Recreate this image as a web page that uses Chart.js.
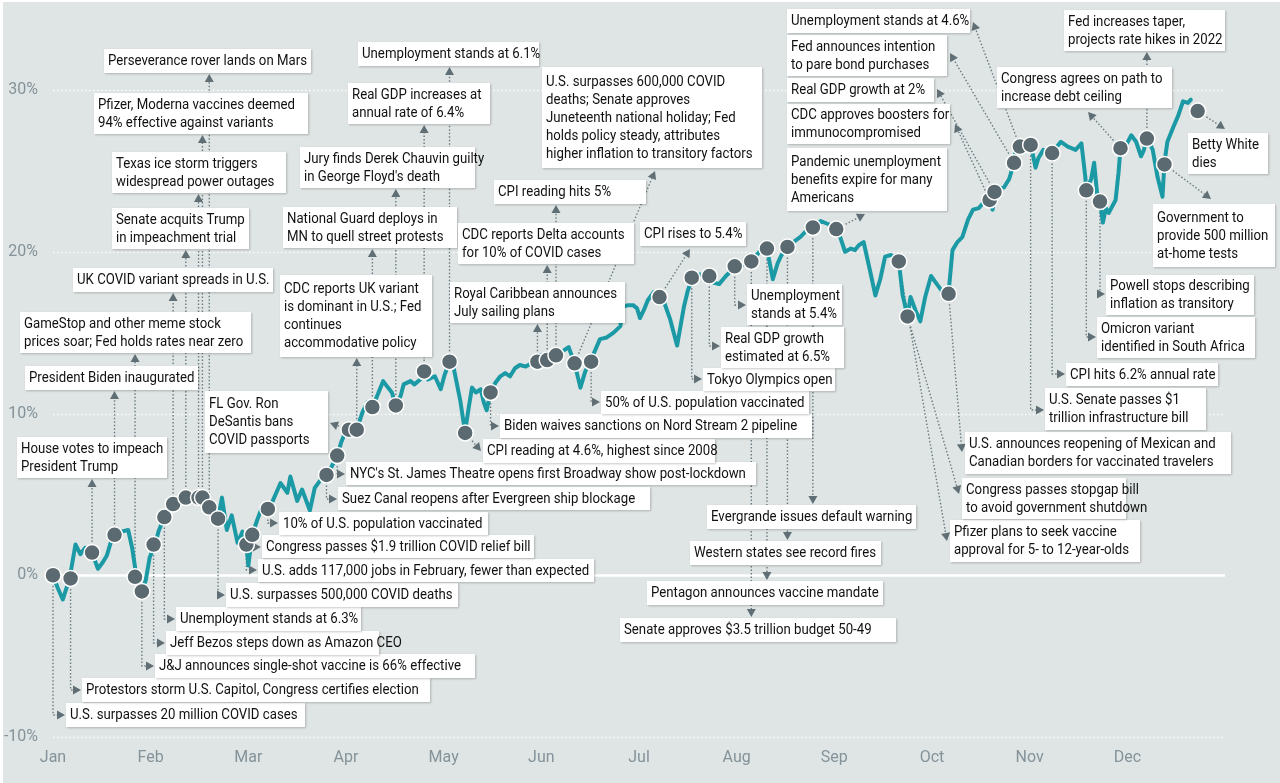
<!DOCTYPE html>
<html>
<head>
<meta charset="utf-8">
<script src="https://cdn.jsdelivr.net/npm/chart.js@4.4.1/dist/chart.umd.min.js"></script>
<style>
  html, body { margin: 0; padding: 0; background: #fff; }
  canvas { display: block; }
</style>
</head>
<body>
<canvas id="chart" width="1280" height="783"></canvas>
<script>
// month ticks on the x axis (x value = months since Jan 1)
const months = ["Jan", "Feb", "Mar", "Apr", "May", "Jun", "Jul", "Aug", "Sep", "Oct", "Nov", "Dec"];
const yTicks = [-10, 0, 10, 20, 30];

// cumulative return, %
const retX = [0, 0.05, 0.10, 0.17, 0.23, 0.28, 0.33, 0.40, 0.46, 0.51, 0.55, 0.60, 0.63, 0.70, 0.77, 0.81, 0.85, 0.89, 0.91, 0.95,
  0.99, 1.05, 1.08, 1.14, 1.18, 1.23, 1.29, 1.36, 1.42, 1.49, 1.54, 1.60, 1.65, 1.69, 1.73, 1.78, 1.83, 1.89, 1.94, 1.98,
  2.00, 2.04, 2.09, 2.14, 2.20, 2.25, 2.33, 2.40, 2.43, 2.50, 2.55, 2.63, 2.68, 2.74, 2.81, 2.86, 2.91, 2.95, 2.99, 3.02,
  3.07, 3.11, 3.17, 3.22, 3.27, 3.30, 3.38, 3.43, 3.47, 3.51, 3.56, 3.59, 3.66, 3.70, 3.76, 3.80, 3.84, 3.91, 3.97, 4.01,
  4.06, 4.10, 4.17, 4.20, 4.22, 4.26, 4.29, 4.33, 4.38, 4.41, 4.44, 4.48, 4.53, 4.58, 4.63, 4.68, 4.73, 4.78, 4.84, 4.90,
  4.96, 4.99, 5.03, 5.07, 5.12, 5.15, 5.23, 5.28, 5.34, 5.40, 5.45, 5.50, 5.55, 5.60, 5.67, 5.74, 5.81, 5.83, 5.89, 5.94,
  5.98, 6.01, 6.05, 6.09, 6.15, 6.21, 6.25, 6.32, 6.39, 6.46, 6.50, 6.55, 6.60, 6.66, 6.72, 6.76, 6.82, 6.89, 6.94, 6.98,
  7.04, 7.10, 7.15, 7.19, 7.25, 7.31, 7.37, 7.42, 7.46, 7.52, 7.58, 7.65, 7.73, 7.79, 7.86, 7.94, 8.02, 8.06, 8.11, 8.17,
  8.21, 8.25, 8.30, 8.37, 8.42, 8.47, 8.52, 8.58, 8.66, 8.70, 8.75, 8.78, 8.83, 8.88, 8.93, 8.99, 9.05, 9.11, 9.17, 9.21,
  9.26, 9.31, 9.37, 9.42, 9.48, 9.55, 9.59, 9.62, 9.65, 9.70, 9.74, 9.79, 9.84, 9.86, 9.90, 9.96, 10.01, 10.03, 10.06, 10.09,
  10.14, 10.23, 10.28, 10.32, 10.39, 10.47, 10.53, 10.57, 10.58, 10.63, 10.66, 10.70, 10.72, 10.75, 10.78, 10.81, 10.88, 10.91, 10.93, 10.98,
  11.04, 11.09, 11.14, 11.17, 11.20, 11.26, 11.31, 11.36, 11.38, 11.41, 11.47, 11.52, 11.57, 11.62, 11.65];
const retY = [0, -0.8, -1.5, -0.2, 1.9, 1.3, 1.7, 1.4, 0.4, 0.8, 1.2, 2.2, 2.5, 2.7, 2.8, 1.7, 0.1, -0.8, -1.0, -0.3,
  1.1, 2.0, 2.7, 3.6, 4.1, 4.4, 4.6, 4.8, 4.8, 4.8, 4.8, 4.2, 3.9, 3.5, 4.8, 2.8, 3.7, 2.0, 2.7, 1.9,
  0.6, 2.5, 3.4, 4.2, 4.1, 4.6, 5.7, 5.1, 6.1, 4.6, 5.3, 4.0, 5.4, 5.9, 6.2, 6.8, 7.4, 8.2, 8.8, 9.0,
  9.0, 9.0, 10.1, 10.7, 10.3, 10.8, 12.0, 11.6, 11.3, 10.5, 11.1, 11.8, 12.0, 11.8, 12.1, 12.6, 12.1, 12.3, 11.5, 12.4,
  13.2, 12.9, 10.8, 9.6, 8.9, 10.5, 11.6, 11.3, 11.5, 10.7, 10.2, 11.3, 11.9, 12.3, 12.5, 12.3, 12.8, 13.0, 12.9, 13.1,
  13.2, 13.6, 13.4, 13.3, 13.5, 13.6, 13.9, 14.1, 13.1, 11.6, 12.6, 13.2, 13.9, 14.6, 14.7, 15.0, 15.4, 16.6, 16.7, 16.7,
  16.5, 15.9, 16.4, 17.0, 17.5, 17.2, 17.0, 15.8, 14.2, 16.6, 17.6, 18.4, 18.6, 18.6, 18.5, 18.1, 18.0, 18.5, 18.8, 19.1,
  19.1, 19.3, 19.4, 19.7, 20.1, 20.2, 18.3, 19.3, 19.8, 20.3, 20.6, 20.9, 21.4, 21.5, 21.9, 21.7, 21.4, 20.9, 20.0, 20.2,
  20.1, 20.4, 20.6, 18.7, 17.3, 18.3, 19.7, 19.8, 19.4, 17.3, 16.0, 17.2, 16.4, 15.7, 17.2, 18.5, 18.0, 17.5, 17.5, 20.1,
  20.6, 20.9, 22.0, 22.6, 22.7, 23.2, 23.2, 22.6, 23.7, 23.9, 24.0, 24.5, 25.5, 26.5, 26.6, 26.7, 26.6, 26.1, 25.2, 25.8,
  26.3, 26.1, 26.5, 26.8, 26.5, 26.3, 26.7, 24.6, 23.8, 24.5, 25.5, 23.0, 23.1, 21.8, 22.7, 22.4, 23.2, 24.9, 26.4, 26.5,
  27.2, 26.8, 25.9, 26.3, 27.1, 26.3, 24.6, 23.4, 25.5, 26.8, 27.7, 28.4, 29.3, 29.2, 29.4];

// events (marker position on the chart)
const eventX = [0, 0.18, 0.40, 0.63, 0.84, 0.91, 1.03, 1.14, 1.23, 1.36, 1.49, 1.53, 1.60, 1.69,
  1.98, 2.04, 2.20, 2.80, 2.91, 3.03, 3.11, 3.27, 3.51, 3.80, 4.06, 4.22, 4.48,
  4.96, 5.06, 5.15, 5.34, 5.51, 6.21, 6.54, 6.72, 6.98, 7.15, 7.31, 7.52, 7.78, 8.02,
  8.66, 8.75, 9.17, 9.59, 9.64, 9.84, 9.90, 10.01, 10.23, 10.58, 10.72, 10.93, 11.20, 11.38, 11.72];
const eventY = [0, -0.2, 1.4, 2.5, -0.1, -1.0, 1.9, 3.6, 4.4, 4.8, 4.8, 4.8, 4.2, 3.5,
  1.9, 2.5, 4.1, 6.2, 7.4, 9.0, 9.0, 10.4, 10.5, 12.6, 13.2, 8.8, 11.3,
  13.2, 13.3, 13.6, 13.1, 13.2, 17.2, 18.4, 18.5, 19.1, 19.4, 20.2, 20.3, 21.5, 21.4,
  19.4, 16.0, 17.4, 23.2, 23.7, 25.5, 26.5, 26.6, 26.1, 23.8, 23.1, 26.4, 27.0, 25.4, 28.7];
const eventText = [
  "U.S. surpasses 20 million COVID cases",
  "Protestors storm U.S. Capitol, Congress certifies election",
  "House votes to impeach|President Trump",
  "President Biden inaugurated",
  "GameStop and other meme stock|prices soar; Fed holds rates near zero",
  "J&J announces single-shot vaccine is 66% effective",
  "Jeff Bezos steps down as Amazon CEO",
  "Unemployment stands at 6.3%",
  "UK COVID variant spreads in U.S.",
  "Senate acquits Trump|in impeachment trial",
  "Texas ice storm triggers|widespread power outages",
  "Pfizer, Moderna vaccines deemed|94% effective against variants",
  "Perseverance rover lands on Mars",
  "U.S. surpasses 500,000 COVID deaths",
  "U.S. adds 117,000 jobs in February, fewer than expected",
  "Congress passes $1.9 trillion COVID relief bill",
  "10% of U.S. population vaccinated",
  "Suez Canal reopens after Evergreen ship blockage",
  "NYC's St. James Theatre opens first Broadway show post-lockdown",
  "FL Gov. Ron|DeSantis bans|COVID passports",
  "CDC reports UK variant|is dominant in U.S.; Fed|continues|accommodative policy",
  "National Guard deploys in|MN to quell street protests",
  "Jury finds Derek Chauvin guilty|in George Floyd's death",
  "Real GDP increases at|annual rate of 6.4%",
  "Unemployment stands at 6.1%",
  "CPI reading at 4.6%, highest since 2008",
  "Biden waives sanctions on Nord Stream 2 pipeline",
  "Royal Caribbean announces|July sailing plans",
  "CDC reports Delta accounts|for 10% of COVID cases",
  "CPI reading hits 5%",
  "U.S. surpasses 600,000 COVID|deaths; Senate approves|Juneteenth national holiday; Fed|holds policy steady, attributes|higher inflation to transitory factors",
  "50% of U.S. population vaccinated",
  "CPI rises to 5.4%",
  "Tokyo Olympics open",
  "Real GDP growth|estimated at 6.5%",
  "Unemployment|stands at 5.4%",
  "Senate approves $3.5 trillion budget 50-49",
  "Pentagon announces vaccine mandate",
  "Western states see record fires",
  "Evergrande issues default warning",
  "Pandemic unemployment|benefits expire for many|Americans",
  "Pfizer plans to seek vaccine|approval for 5- to 12-year-olds",
  "Congress passes stopgap bill|to avoid government shutdown",
  "U.S. announces reopening of Mexican and|Canadian borders for vaccinated travelers",
  "CDC approves boosters for|immunocompromised",
  "Real GDP growth at 2%",
  "Fed announces intention|to pare bond purchases",
  "Unemployment stands at 4.6%",
  "U.S. Senate passes $1|trillion infrastructure bill",
  "CPI hits 6.2% annual rate",
  "Omicron variant|identified in South Africa",
  "Powell stops describing|inflation as transitory",
  "Congress agrees on path to|increase debt ceiling",
  "Fed increases taper,|projects rate hikes in 2022",
  "Government to|provide 500 million|at-home tests",
  "Betty White|dies"
];

// label boxes (canvas px) and how each connects to its marker
const noteBoxes = [
  [66, 703, 239, 24], [82, 678, 348, 24], [17, 437, 150, 41], [25, 366, 173, 24], [20, 312, 231, 41],
  [155, 654, 320, 24], [166, 631, 213, 24], [176, 607, 185, 24], [73, 268, 200, 24], [112, 208, 137, 41],
  [112, 152, 174, 41], [94, 93, 214, 41], [104, 49, 207, 24], [226, 583, 232, 24],
  [258, 559, 336, 23], [262, 535, 272, 23], [279, 512, 209, 23], [338, 487, 312, 23], [346, 462, 410, 23],
  [205, 391, 123, 62], [280, 275, 152, 82], [283, 207, 174, 41], [300, 147, 175, 41], [348, 83, 142, 41],
  [358, 42, 181, 24], [483, 439, 232, 24], [500, 414, 312, 24],
  [450, 282, 175, 41], [458, 223, 176, 41], [494, 180, 152, 24], [542, 67, 220, 101], [601, 391, 208, 23],
  [640, 222, 106, 24], [703, 368, 132, 23], [721, 327, 123, 41], [747, 284, 95, 41],
  [620, 618, 276, 24], [647, 581, 236, 24], [690, 541, 191, 24], [707, 505, 209, 24], [787, 148, 160, 63],
  [950, 520, 190, 42], [962, 478, 164, 41], [965, 432, 266, 42],
  [787, 104, 163, 40], [787, 78, 147, 24], [787, 35, 160, 41], [787, 9, 183, 24],
  [1045, 388, 161, 42], [1066, 363, 152, 23], [1097, 317, 158, 41], [1106, 275, 148, 40],
  [997, 67, 175, 41], [1064, 10, 161, 41], [1153, 204, 122, 63], [1188, 133, 80, 41]
];
const noteLinks = [
  ["elbow", 715], ["elbow", 690], ["up"], ["up"], ["up"],
  ["elbow", 666], ["elbow", 643], ["elbow", 619], ["up"], ["up"],
  ["up"], ["up"], ["up"], ["elbow", 595],
  ["elbow", 570], ["elbow", 547], ["elbow", 523], ["elbow", 499], ["elbow", 474],
  ["to", 330, 423], ["up"], ["up"], ["up"], ["up"],
  ["up"], ["to", 481, 451], ["elbow", 426],
  ["up"], ["up"], ["up"], ["to", 655, 171], ["elbow", 402],
  ["to", 690, 249], ["elbow", 379], ["elbow", 346], ["elbow", 305],
  ["down"], ["down"], ["down"], ["down"], ["to", 865, 214],
  ["to", 947, 541], ["to", 959, 494], ["to", 962, 452],
  ["to", 955, 124], ["to", 937, 89], ["to", 950, 53], ["to", 973, 22],
  ["elbow", 410], ["elbow", 374], ["elbow", 337], ["elbow", 294],
  ["to", 1088, 112], ["up"], ["to", 1211, 199], ["to", 1225, 129]
];

const TEAL = "#1b9aa6";
const SLATE = "#5b6a70";
const LINK = "#6a7a80";
const AXIS = "#84929a";

function markerPx(chart, i) {
  return [chart.scales.x.getPixelForValue(eventX[i]), chart.scales.y.getPixelForValue(eventY[i])];
}

function linkPath(chart, i) {
  const [mx, my] = markerPx(chart, i);
  const [bx, by, bw, bh] = noteBoxes[i];
  const l = noteLinks[i];
  if (l[0] === "up") return [[mx, my], [mx, by + bh + 1]];
  if (l[0] === "down") return [[mx, my], [mx, by - 1]];
  if (l[0] === "elbow") return [[mx, my], [mx, l[1]], [bx - 1, l[1]]];
  return [[mx, my], [l[1], l[2]]];
}

const backdrop = {
  id: "backdrop",
  beforeDraw(chart) {
    const ctx = chart.ctx;
    ctx.save();
    ctx.fillStyle = "#ffffff";
    ctx.fillRect(0, 0, chart.width, chart.height);
    ctx.fillStyle = "#dfe5e4";
    ctx.fillRect(3, 2, chart.width - 3, chart.height - 2);
    ctx.restore();
  },
  beforeDatasetsDraw(chart) {
    const ctx = chart.ctx, a = chart.chartArea, y = chart.scales.y;
    ctx.save();
    yTicks.forEach(v => {
      const py = Math.round(y.getPixelForValue(v)) + 0.5;
      ctx.beginPath();
      if (v === 0) {
        ctx.setLineDash([]);
        ctx.lineWidth = 2.5;
        ctx.strokeStyle = "#ffffff";
      } else {
        ctx.setLineDash([1.5, 2.5]);
        ctx.lineWidth = 1.5;
        ctx.strokeStyle = "rgba(255,255,255,0.95)";
      }
      ctx.moveTo(a.left, py);
      ctx.lineTo(a.right, py);
      ctx.stroke();
    });

    // dotted connectors with arrow heads
    ctx.strokeStyle = LINK;
    ctx.fillStyle = "#5f6f75";
    ctx.lineWidth = 1.4;
    for (let i = 0; i < eventX.length; i++) {
      const pts = linkPath(chart, i);
      const tip = pts[pts.length - 1], prev = pts[pts.length - 2];
      const ang = Math.atan2(tip[1] - prev[1], tip[0] - prev[0]);
      const len = 8;
      const end = [tip[0] - Math.cos(ang) * len, tip[1] - Math.sin(ang) * len];
      ctx.setLineDash([1.5, 2]);
      ctx.beginPath();
      ctx.moveTo(pts[0][0], pts[0][1]);
      for (let k = 1; k < pts.length - 1; k++) ctx.lineTo(pts[k][0], pts[k][1]);
      ctx.lineTo(end[0], end[1]);
      ctx.stroke();
      ctx.setLineDash([]);
      ctx.beginPath();
      ctx.moveTo(tip[0], tip[1]);
      ctx.lineTo(end[0] - Math.sin(ang) * 4.5, end[1] + Math.cos(ang) * 4.5);
      ctx.lineTo(end[0] + Math.sin(ang) * 4.5, end[1] - Math.cos(ang) * 4.5);
      ctx.closePath();
      ctx.fill();
    }
    ctx.restore();
  },
  afterDatasetsDraw(chart) {
    const ctx = chart.ctx;
    ctx.save();
    ctx.font = "15px Roboto";
    // squeeze text to the condensed look of the original
    const sx = 199 / ctx.measureText("Perseverance rover lands on Mars").width;
    noteBoxes.forEach((b, i) => {
      const [x, y, w, h] = b;
      ctx.save();
      ctx.shadowColor = "rgba(0,0,0,0.22)";
      ctx.shadowBlur = 2;
      ctx.shadowOffsetX = 1;
      ctx.shadowOffsetY = 1;
      ctx.fillStyle = "#ffffff";
      ctx.fillRect(x, y, w, h);
      ctx.restore();
      const lines = eventText[i].split("|");
      const top = y + (h - lines.length * 18) / 2 + 9.5;
      ctx.fillStyle = "#111111";
      ctx.textBaseline = "middle";
      lines.forEach((s, k) => {
        ctx.save();
        ctx.translate(x + 4, top + k * 18);
        ctx.scale(sx, 1);
        ctx.fillText(s, 0, 0);
        ctx.restore();
      });
    });
    ctx.restore();
  }
};

new Chart(document.getElementById("chart"), {
  type: "line",
  data: {
    datasets: [
      {
        data: eventX.map((x, i) => ({ x: x, y: eventY[i] })),
        showLine: false,
        pointRadius: 8,
        pointBackgroundColor: SLATE,
        pointBorderColor: "#ffffff",
        pointBorderWidth: 1.5,
        clip: false,
        order: 0
      },
      {
        data: retX.map((x, i) => ({ x: x, y: retY[i] })),
        borderColor: TEAL,
        borderWidth: 4,
        borderJoinStyle: "round",
        borderCapStyle: "round",
        pointRadius: 0,
        tension: 0,
        clip: false,
        order: 1
      }
    ]
  },
  options: {
    responsive: false,
    animation: false,
    layout: { padding: { top: 90, right: 55, left: 0, bottom: 0 } },
    plugins: { legend: { display: false }, tooltip: { enabled: false } },
    scales: {
      x: {
        type: "linear",
        min: 0,
        max: 12,
        grid: { display: false, drawTicks: false },
        border: { display: false },
        afterFit: s => { s.height = 46; },
        ticks: {
          stepSize: 1,
          autoSkip: false,
          maxRotation: 0,
          padding: 11,
          color: AXIS,
          font: { family: "Roboto", size: 16 },
          callback: v => months[v] || ""
        }
      },
      y: {
        min: -10,
        max: 30,
        grid: { display: false, drawTicks: false },
        border: { display: false },
        afterFit: s => { s.width = 53; },
        ticks: {
          stepSize: 10,
          padding: 15,
          color: AXIS,
          font: { family: "Roboto", size: 16 },
          callback: v => v + "%"
        }
      }
    }
  },
  plugins: [backdrop]
});
</script>
</body>
</html>
